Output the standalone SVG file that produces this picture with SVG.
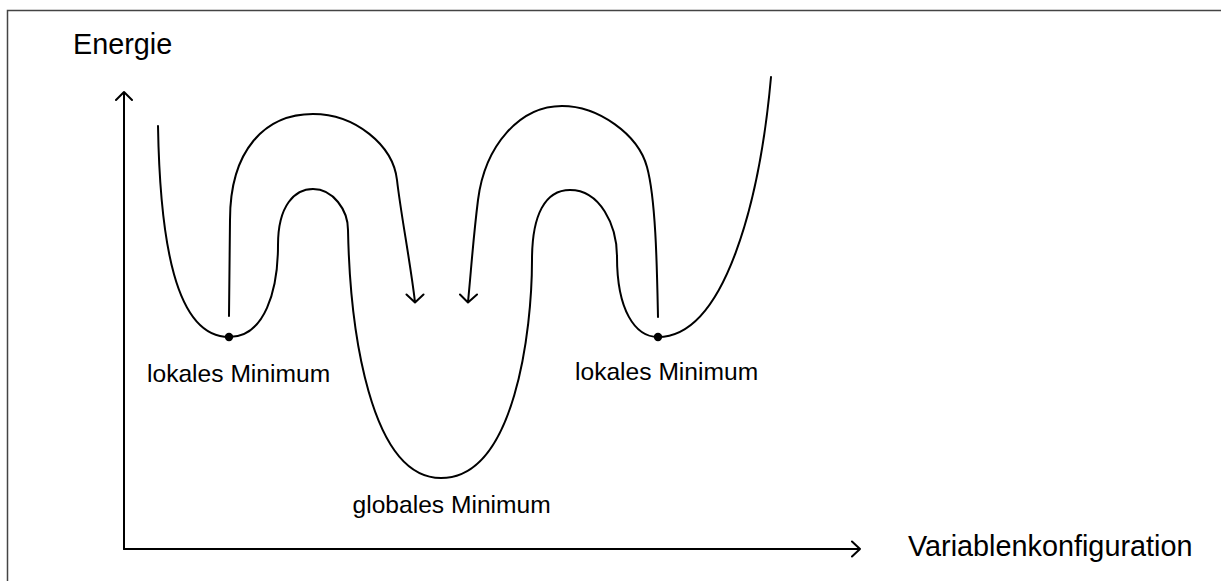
<svg xmlns="http://www.w3.org/2000/svg" width="1221" height="581" viewBox="0 0 1221 581">
<style>
.ln{fill:none;stroke:#000;stroke-width:2;stroke-linecap:round;stroke-linejoin:round}
.ax{font-family:"Liberation Sans",Arial,sans-serif;font-size:28.8px;fill:#000}
.lb{font-family:"Liberation Sans",Arial,sans-serif;font-size:24.6px;fill:#000}
</style>
<rect x="7.5" y="10.5" width="1230" height="600" fill="#fff" stroke="#444" stroke-width="1.5"/>
<g id="axes">
<path class="ln" d="M124,549 L124,92 M116,100 L124,92 L132,100"/>
<path class="ln" d="M124,549 L860,549 M852,541.5 L860,549 L852,556.5"/>
<text class="ax" x="73" y="54">Energie</text>
<text class="ax" x="908" y="556">Variablenkonfiguration</text>
</g>
<g id="curve">
<path class="ln" d="M158,126 C160,240 175,337 229,337 C265,337 278,290 278,245 C278,205 295,189 313,189 C333,189 348,210 348,230 C350,330 370,478 441,478 C515,478 532,330 532,260 C532,215 545,190 570,190 C600,190 617,225 617,257 C617,310 635,337 658,337 C725,337 760,200 771,77"/>
</g>
<g id="min-left">
<circle cx="229" cy="337" r="4.2" fill="#000"/>
<text class="lb" x="147" y="381.5">lokales Minimum</text>
</g>
<g id="min-global">
<text class="lb" x="352.5" y="513">globales Minimum</text>
</g>
<g id="min-right">
<circle cx="658" cy="337" r="4.2" fill="#000"/>
<text class="lb" x="575" y="380">lokales Minimum</text>
</g>
<g id="connectors">
<path class="ln" d="M229,316 L230,220 C230,150 265,114 313,114 C355,114 393,145 397,180 C401,215 410,260 415,302 M406.5,294.5 L415,302.5 L423.5,294.5"/>
<path class="ln" d="M658,317 C657,270 656,200 647,167 C638,134 598,106 562,106 C520,106 485,145 478,200 C473,240 471,272 468,302 M460,294.5 L468,302.5 L477,294.5"/>
</g>
</svg>
